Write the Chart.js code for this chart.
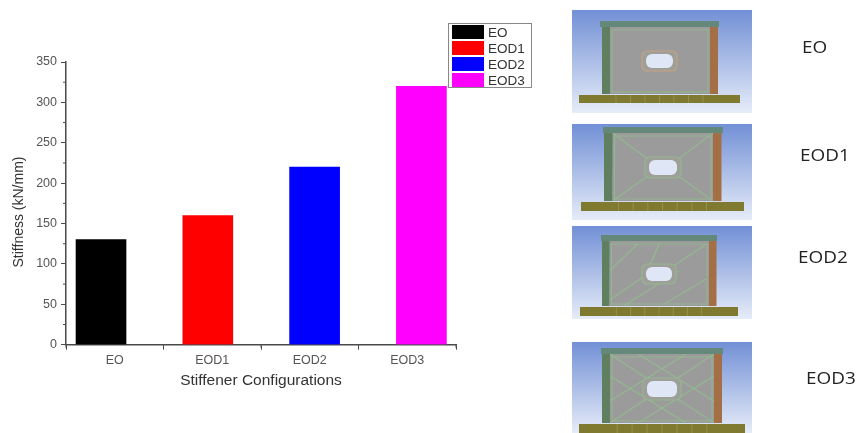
<!DOCTYPE html>
<html lang="en">
<head>
    <meta charset="UTF-8">
    <title>Stiffener Configurations</title>
    <style>
        html, body { margin: 0; background: #fff; }
        body { width: 858px; height: 433px; position: relative; overflow: hidden; font-family: 'Liberation Sans', Arial, sans-serif; }
        #chart { position: absolute; left: 0; top: 0; filter: blur(0.35px); }
        #models { position: absolute; left: 0; top: 0; filter: blur(0.6px); }
        #legend { position: absolute; left: 448px; top: 23px; width: 84px; height: 65px; box-sizing: border-box; border: 1px solid #888; background: #fff; padding: 0 0 0 3px; filter: blur(0.3px); }
        .row { height: 16px; display: flex; align-items: center; font-size: 13.5px; color: #333; }
        .swatch { width: 32px; height: 14.5px; margin-right: 4px; }
        .config { position: absolute; font-family: 'Open Sans', sans-serif; font-size: 15.5px; color: #222; transform: translateY(-50%) scaleX(1.22); transform-origin: left center; }
    </style>
</head>
<body>
<canvas id="chart" width="858" height="433"></canvas>
<svg id="models" width="858" height="433" xmlns="http://www.w3.org/2000/svg"></svg>
<div id="legend"></div>

<script src="https://cdn.jsdelivr.net/npm/chart.js"></script>
<script>
    // Data
    const categories = ['EO', 'EOD1', 'EOD2', 'EOD3'];
    const stiffness = [130, 160, 220, 320];
    const barColors = ['#000000', '#ff0000', '#0000ff', '#ff00ff'];
    const yTicks = [0, 50, 100, 150, 200, 250, 300, 350];
    const xTitle = 'Stiffener Configurations';
    const yTitle = 'Stiffness (kN/mm)';

    const AXIS = '#4a4a4a';

    // Origin style minor ticks and the off-centre y title, the library has neither
    const extras = {
        id: 'extras',
        afterDraw(chart) {
            const { ctx, scales: { x, y } } = chart;
            ctx.save();
            ctx.strokeStyle = AXIS;
            ctx.lineWidth = 1;
            ctx.beginPath();
            for (let i = 0; i < yTicks.length - 1; i++) {
                const py = y.getPixelForValue((yTicks[i] + yTicks[i + 1]) / 2);
                ctx.moveTo(x.left, py);
                ctx.lineTo(x.left - 3, py);
            }
            for (let i = 0; i <= categories.length; i++) {
                const px = x.getPixelForValue(i - 0.5);
                ctx.moveTo(px, y.bottom);
                ctx.lineTo(px, y.bottom + 3);
            }
            ctx.stroke();
            ctx.translate(19, 212);
            ctx.rotate(-Math.PI / 2);
            ctx.font = "14px 'Liberation Sans'";
            ctx.fillStyle = '#333';
            ctx.textAlign = 'center';
            ctx.textBaseline = 'middle';
            ctx.fillText(yTitle, 0, 0);
            ctx.restore();
        }
    };

    new Chart(document.getElementById('chart'), {
        type: 'bar',
        data: {
            labels: categories,
            datasets: [{
                data: stiffness.map((v, i) => ({ x: i, y: v })),
                backgroundColor: barColors,
                barThickness: 50,
                xAxisID: 'bars'
            }]
        },
        options: {
            responsive: false,
            animation: false,
            layout: { padding: { top: 62, right: 402 } },
            plugins: { legend: { display: false }, tooltip: { enabled: false } },
            scales: {
                // the bars sit off the category ticks in the original, so they get their own hidden axis
                bars: { type: 'linear', display: false, min: -0.328, max: 3.324, offset: false },
                x: {
                    type: 'category',
                    labels: categories,
                    offset: true,
                    afterFit(s) { s.height = 88.3; },
                    border: { color: AXIS, width: 1.5 },
                    grid: { drawOnChartArea: false, color: AXIS, tickLength: 5 },
                    ticks: { color: '#555', font: { family: 'Liberation Sans', size: 12.5 }, padding: 3, maxRotation: 0 },
                    title: { display: true, text: xTitle, color: '#333', font: { family: 'Liberation Sans', size: 15.5 }, padding: { top: 4, bottom: 43 } }
                },
                y: {
                    min: 0,
                    max: 350,
                    afterFit(s) { s.width = 66; },
                    border: { color: AXIS, width: 1.5 },
                    grid: { drawOnChartArea: false, color: AXIS, tickLength: 5 },
                    ticks: { stepSize: 50, color: '#555', font: { family: 'Liberation Sans', size: 12.5 }, padding: 4 }
                }
            }
        },
        plugins: [extras]
    });

    // Legend box
    document.getElementById('legend').innerHTML = categories.map((c, i) =>
        `<div class="row"><span class="swatch" style="background:${barColors[i]}"></span>${c}</div>`).join('');

    // Model pictures on the right, not chart data
    const panels = [
        { name: 'EO', py: 10, ph: 103, bx: 600, bw: 119, by: 21, lc: 602, rc: 710, cw: 8, foot: 94, bl: 579, br: 740, bb: 103, hx: 646, hy: 54, hw: 27, hh: 14, lx: 802, ly: 47, kind: 'plain' },
        { name: 'EOD1', py: 124, ph: 96, bx: 603, bw: 120, by: 127, lc: 604, rc: 713, cw: 8.5, foot: 201, bl: 581, br: 744, bb: 211, hx: 649, hy: 160, hw: 28, hh: 15, lx: 800, ly: 155, kind: 'corners' },
        { name: 'EOD2', py: 226, ph: 93, bx: 601, bw: 116, by: 235, lc: 602, rc: 709, cw: 7.5, foot: 306, bl: 580, br: 738, bb: 316, hx: 646, hy: 267, hw: 26, hh: 14, lx: 798, ly: 257, kind: 'slant' },
        { name: 'EOD3', py: 342, ph: 91, bx: 601, bw: 122, by: 348, lc: 602, rc: 714, cw: 8, foot: 423, bl: 579, br: 745, bb: 433, hx: 647, hy: 381, hw: 30, hh: 16, lx: 806, ly: 378, kind: 'cross' }
    ];

    const svg = document.getElementById('models');
    let out = `<defs>
        <linearGradient id="sky" x1="0" y1="0" x2="0" y2="1"><stop offset="0" stop-color="#7290d6"/><stop offset="1" stop-color="#e6ecf8"/></linearGradient>
    </defs>`;

    function line(x1, y1, x2, y2) {
        return `<line x1="${x1}" y1="${y1}" x2="${x2}" y2="${y2}" stroke="#93b78f" stroke-width="1.4"/>`;
    }

    panels.forEach(p => {
        const top = p.by + 6, left = p.lc + p.cw, right = p.rc, bottom = p.foot;
        const hr = p.hx + p.hw, hb = p.hy + p.hh;
        out += `<rect x="572" y="${p.py}" width="180" height="${p.ph}" fill="url(#sky)"/>`;
        out += `<rect x="${left}" y="${top}" width="${right - left}" height="${bottom - top}" fill="#9b9b9b"/>`;
        out += `<rect x="${left + 2}" y="${top + 3}" width="${right - left - 4}" height="${bottom - top - 5}" fill="none" stroke="#93b78f" stroke-width="1"/>`;
        if (p.kind === 'corners') {
            out += line(left, top, p.hx, p.hy) + line(right, top, hr, p.hy) + line(left, bottom, p.hx, hb) + line(right, bottom, hr, hb);
        }
        if (p.kind === 'slant') {
            out += line(left, bottom - 6, p.hx, p.hy + 8) + line(p.hx + 4, p.hy - 2, left + 50, top + 2);
            out += line(left + 14, bottom, right - 30, top + 30) + line(hr, p.hy, right - 4, top + 4);
            out += line(left + 55, bottom - 2, right - 3, top + 38) + line(left, top + 30, left + 28, top + 3);
        }
        if (p.kind === 'cross') {
            out += line(left, top, right, bottom) + line(right, top, left, bottom);
            out += line(left + 28, top, right, bottom - 22) + line(right - 28, top, left, bottom - 22);
            out += line(left, top + 22, right - 28, bottom) + line(right, top + 22, left + 28, bottom);
        }
        const ring = p.kind === 'plain' ? '#c9a27e' : '#93b78f';
        out += `<rect x="${p.hx - 4}" y="${p.hy - 3}" width="${p.hw + 8}" height="${p.hh + 6}" rx="5" fill="#9e9f98" stroke="${ring}" stroke-width="1.2"/>`;
        out += `<rect x="${p.hx}" y="${p.hy}" width="${p.hw}" height="${p.hh}" rx="6" fill="#dfe7f6"/>`;
        out += `<rect x="${p.lc}" y="${p.by}" width="${p.cw}" height="${bottom - p.by}" fill="#5f7f5f"/>`;
        out += `<rect x="${p.rc}" y="${p.by}" width="${p.cw}" height="${bottom - p.by}" fill="#a56f45"/>`;
        out += `<rect x="${p.bx}" y="${p.by}" width="${p.bw}" height="6" fill="#64897a"/>`;
        out += `<rect x="${p.bl}" y="${bottom + 1}" width="${p.br - p.bl}" height="${p.bb - bottom - 1}" fill="#7f7a30"/>`;
        for (let i = 1; i < 8; i++) {
            const sx = p.bl + (p.br - p.bl) * (0.14 + i * 0.09);
            out += `<line x1="${sx}" y1="${bottom + 1}" x2="${sx}" y2="${p.bb}" stroke="#9a9650" stroke-width="0.8"/>`;
        }
        const label = document.createElement('div');
        label.className = 'config';
        label.style.left = p.lx + 'px';
        label.style.top = p.ly + 'px';
        label.textContent = p.name;
        document.body.appendChild(label);
    });
    svg.innerHTML = out;
</script>
</body>
</html>
